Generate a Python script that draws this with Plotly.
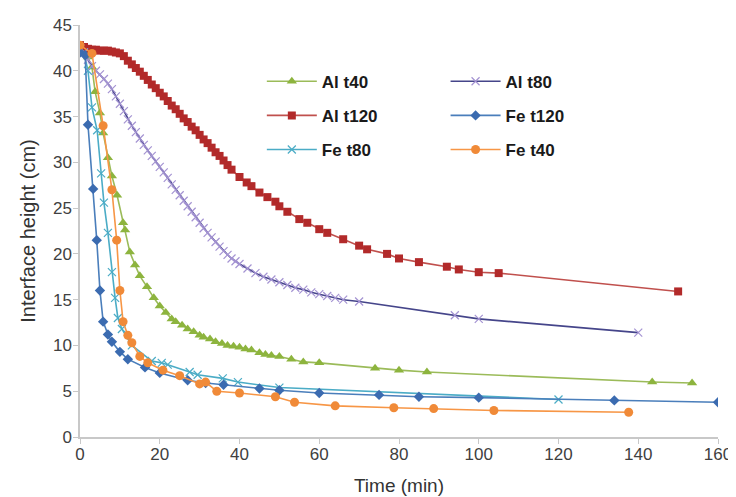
import plotly.graph_objects as go

# ---- data ----
al40_t = [0, 1, 2, 3, 3.8, 5, 5.8, 7, 8, 9.3, 10.8, 11.3, 12.5, 13.8, 15, 16.8, 18.5, 20, 21.5, 23, 24, 25.6, 27, 28.5, 30, 31, 32.6, 34, 35.6, 37, 38.5, 40, 41.5, 43, 45, 46.5, 48, 50, 53, 56, 60, 74, 80, 87, 143.5, 153.5]
al40_h = [42.5, 42.2, 41.5, 40.4, 37.7, 35.4, 33.2, 30.5, 28.5, 26.4, 23.4, 22.6, 20.2, 18.8, 17.6, 16.4, 15.2, 14.3, 13.6, 12.9, 12.6, 12.2, 11.8, 11.5, 11.1, 10.9, 10.7, 10.4, 10.2, 10.0, 9.9, 9.8, 9.6, 9.5, 9.2, 9.0, 8.9, 8.8, 8.5, 8.2, 8.1, 7.5, 7.3, 7.1, 6.0, 5.9]

al80_t = [0, 1, 2, 3, 4, 5, 6, 7, 8, 9, 10, 11, 12, 13, 14, 15, 16, 17, 18, 19, 20, 21, 22, 23, 24, 25, 26, 27, 28, 29, 30, 31, 32, 33, 34, 35, 36, 37, 38, 39, 40, 42, 44, 46, 48, 50, 52, 54, 56, 58, 60, 62, 64, 66, 70, 94, 100, 140]
al80_h = [42.5, 42.0, 41.2, 40.5, 40.0, 39.6, 39.1, 38.6, 38.0, 37.2, 36.4, 35.6, 34.7, 34.0, 33.3, 32.6, 31.9, 31.3, 30.7, 30.1, 29.5, 28.9, 28.3, 27.6, 27.0, 26.4, 25.8, 25.2, 24.6, 24.0, 23.4, 22.8, 22.3, 21.8, 21.3, 20.8, 20.3, 19.9, 19.5, 19.2, 18.9, 18.4, 17.9, 17.5, 17.2, 16.9, 16.6, 16.3, 16.1, 15.8, 15.6, 15.4, 15.2, 15.0, 14.8, 13.3, 12.9, 11.4]

al120_t = [0, 1, 2, 3, 4, 5, 6, 7, 8, 9, 10, 11, 12, 13, 14, 15, 16, 17, 18, 19, 20, 21, 22, 23, 24, 25, 26, 27, 28, 29, 30, 31, 32, 33, 34, 35, 36, 37, 38, 40, 41.8, 43, 45, 47, 49, 50, 52, 55, 57, 60, 62, 66, 70, 72, 77, 80, 85, 92, 95, 100, 105, 150]
al120_h = [42.8, 42.6, 42.4, 42.3, 42.3, 42.2, 42.2, 42.2, 42.1, 42.0, 41.9, 41.6, 41.1, 40.7, 40.3, 39.9, 39.45, 39.0, 38.5, 38.1, 37.6, 37.2, 36.7, 36.2, 35.8, 35.3, 34.8, 34.4, 33.9, 33.5, 33.0, 32.5, 32.1, 31.6, 31.1, 30.7, 30.2, 29.7, 29.2, 28.4, 27.8, 27.4, 26.7, 26.2, 25.7, 25.2, 24.6, 23.8, 23.4, 22.7, 22.3, 21.6, 20.9, 20.5, 20.0, 19.5, 19.1, 18.6, 18.3, 18.0, 17.9, 15.9]

fe120_t = [0, 1.3, 2, 3.3, 4.2, 5, 5.8, 7, 8, 10, 12, 16.3, 20, 27, 31.5, 36, 45, 50, 60, 75, 85, 100, 134, 160]
fe120_h = [42.0, 41.7, 34.1, 27.1, 21.5, 16.0, 12.6, 11.2, 10.4, 9.3, 8.5, 7.6, 7.0, 6.2, 5.9, 5.7, 5.3, 5.1, 4.8, 4.6, 4.4, 4.3, 4.0, 3.8]

fe80_t = [0, 1, 2, 3, 4.3, 5.3, 6, 7, 8, 8.8, 9.5, 10.5, 13, 18, 20.5, 22, 27.5, 29.5, 35.8, 39.6, 50, 120]
fe80_h = [42.5, 42.0, 40.0, 36.0, 33.5, 28.8, 25.6, 22.3, 18.0, 15.2, 13.0, 11.8, 10.0, 8.3, 8.1, 7.9, 7.1, 6.8, 6.4, 6.0, 5.4, 4.1]

fe40_t = [0, 3, 5.8, 8, 9.2, 10, 10.8, 12, 13, 15, 17, 20.8, 25, 30, 31.5, 34.3, 40, 49, 53.8, 64, 78.7, 88.7, 103.8, 137.6]
fe40_h = [42.8, 41.9, 34.0, 27.0, 21.5, 16.0, 12.6, 11.1, 10.3, 8.8, 8.1, 7.3, 6.7, 5.8, 6.0, 5.0, 4.8, 4.4, 3.8, 3.4, 3.2, 3.1, 2.9, 2.7]

x_ticks = [0, 20, 40, 60, 80, 100, 120, 140, 160]
y_ticks = [0, 5, 10, 15, 20, 25, 30, 35, 40, 45]

fig = go.Figure()

def add(name, t, h, lcolor, mcolor, symbol, size, legend, mline=0):
    fig.add_trace(go.Scatter(
        x=t, y=h, name=name, mode="lines+markers", legend=legend,
        legendgroup=name,
        line=dict(color=lcolor, width=1.6),
        marker=dict(symbol=symbol, size=size, color=mcolor,
                    line=dict(width=mline, color=mcolor)),
    ))

add("Al t40", al40_t, al40_h, "#9BBB59", "#8DB43E", "triangle-up", 9, "legend")
add("Al t120", al120_t, al120_h, "#C0504D", "#B22A2A", "square", 8, "legend")
add("Fe t80", fe80_t, fe80_h, "#4BACC6", "#4BACC6", "x-thin-open", 8, "legend", 1.2)
add("Al t80", al80_t, al80_h, "#45458A", "#A493D2", "x-thin-open", 8, "legend2", 1.2)
add("Fe t120", fe120_t, fe120_h, "#4A7EBB", "#3B6BB0", "diamond", 8, "legend2")
add("Fe t40", fe40_t, fe40_h, "#F79646", "#F08A38", "circle", 9, "legend2")

legend_common = dict(
    font=dict(family="Liberation Sans", size=17, color="#1a1a1a", weight="bold"),
    bgcolor="rgba(0,0,0,0)", tracegroupgap=9, itemwidth=50,
    xanchor="left", yanchor="top",
)

# the page body has an 8px margin, so the figure is drawn 8px smaller and offset
fig.update_layout(
    width=728, height=489,
    margin=dict(l=72, r=18, t=17, b=60),
    paper_bgcolor="white", plot_bgcolor="white",
    font=dict(family="Liberation Sans", color="#404040"),
    xaxis=dict(range=[0, 160], tickvals=x_ticks, showgrid=False, zeroline=False,
               automargin=False,
               showline=True, linecolor="#C8C8C8", linewidth=1.5,
               ticks="outside", ticklen=5, tickcolor="#C8C8C8",
               ticklabelstandoff=-4,
               tickfont=dict(size=17, color="#404040"),
               title=dict(text="Time (min)", font=dict(size=19, color="#333333"), standoff=16)),
    yaxis=dict(range=[0, 45], tickvals=y_ticks, showgrid=False, zeroline=False,
               automargin=False,
               showline=True, linecolor="#C8C8C8", linewidth=1.5,
               ticks="outside", ticklen=5, tickcolor="#C8C8C8",
               ticklabelstandoff=-2,
               tickfont=dict(size=17, color="#404040"),
               title=dict(text="Interface height (cm)", font=dict(size=20, color="#333333"), standoff=12)),
    legend=dict(x=0.285, y=0.906, **legend_common),
    legend2=dict(x=0.573, y=0.906, **legend_common),
    showlegend=True,
)

fig.write_html("out.html")
